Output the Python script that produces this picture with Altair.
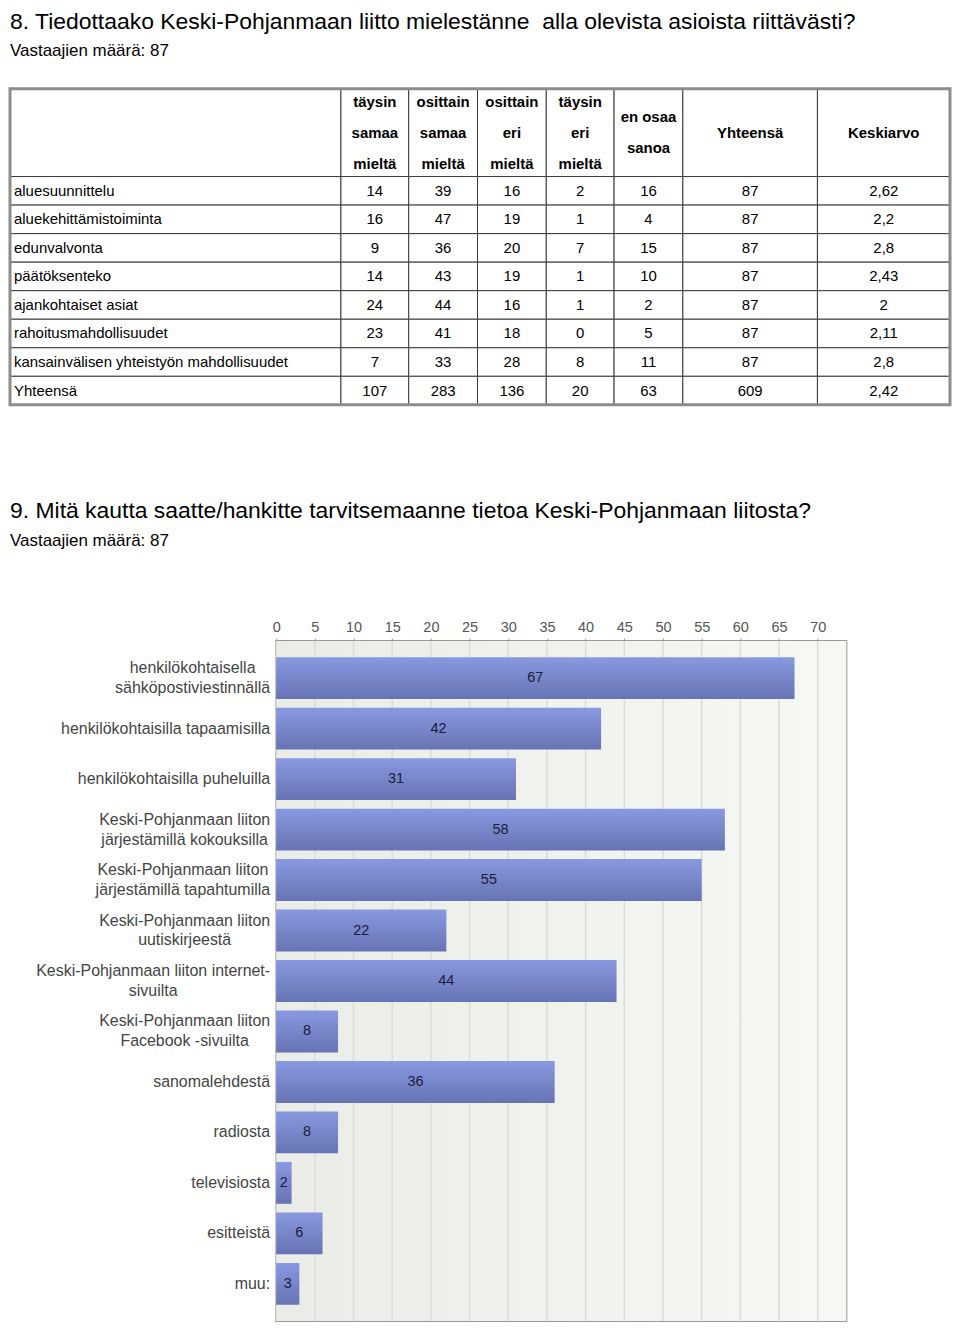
import altair as alt
import pandas as pd

FONT = "Liberation Sans, Arial, Helvetica, sans-serif"

# ---------------- data: question 8 table ----------------
q8_title = "8. Tiedottaako Keski-Pohjanmaan liitto mielestänne\u00a0 alla olevista asioista riittävästi?"
q8_sub = "Vastaajien määrä: 87"
row_names = ["aluesuunnittelu", "aluekehittämistoiminta", "edunvalvonta", "päätöksenteko",
             "ajankohtaiset asiat", "rahoitusmahdollisuudet",
             "kansainvälisen yhteistyön mahdollisuudet", "Yhteensä"]
col_headers = [["täysin", "samaa", "mieltä"], ["osittain", "samaa", "mieltä"],
               ["osittain", "eri", "mieltä"], ["täysin", "eri", "mieltä"],
               ["en osaa", "sanoa"], ["Yhteensä"], ["Keskiarvo"]]
taysin_samaa = [14, 16, 9, 14, 24, 23, 7, 107]
osittain_samaa = [39, 47, 36, 43, 44, 41, 33, 283]
osittain_eri = [16, 19, 20, 19, 16, 18, 28, 136]
taysin_eri = [2, 1, 7, 1, 1, 0, 8, 20]
en_osaa = [16, 4, 15, 10, 2, 5, 11, 63]
yhteensa = [87, 87, 87, 87, 87, 87, 87, 609]
keskiarvo = ["2,62", "2,2", "2,8", "2,43", "2", "2,11", "2,8", "2,42"]

# ---------------- data: question 9 bars ----------------
q9_title = "9. Mitä kautta saatte/hankitte tarvitsemaanne tietoa Keski-Pohjanmaan liitosta?"
q9_sub = "Vastaajien määrä: 87"
channels = ["henkilökohtaisella\nsähköpostiviestinnällä", "henkilökohtaisilla tapaamisilla",
            "henkilökohtaisilla puheluilla", "Keski-Pohjanmaan liiton\njärjestämillä kokouksilla",
            "Keski-Pohjanmaan liiton\njärjestämillä tapahtumilla", "Keski-Pohjanmaan liiton\nuutiskirjeestä",
            "Keski-Pohjanmaan liiton internet-\nsivuilta", "Keski-Pohjanmaan liiton\nFacebook -sivuilta",
            "sanomalehdestä", "radiosta", "televisiosta", "esitteistä", "muu:"]
counts = [67, 42, 31, 58, 55, 22, 44, 8, 36, 8, 2, 6, 3]
tick_values = list(range(0, 75, 5))

# ---------------- layout constants ----------------
ORIGIN = 275                      # page x of the bar chart zero line
edges = [8, 340, 408, 477, 546, 614, 683, 818, 951]   # table column edges (page x)
HEADER_H = 88
ROW_H = 28.625
HEAD_LH = 31
TABLE_H = HEADER_H + ROW_H * len(row_names)
TABLE_W = edges[-1] - ORIGIN
LABEL_FS = 16
LABEL_LH = 20

# approximate Arial / Liberation Sans advance widths (per 1000 em) for label block centering
_W = {" ": 278, "-": 333, ":": 278, "a": 556, "b": 556, "c": 500, "d": 556, "e": 556, "f": 278,
      "g": 556, "h": 556, "i": 222, "j": 222, "k": 500, "l": 222, "m": 833, "n": 556, "o": 556,
      "p": 556, "q": 556, "r": 333, "s": 500, "t": 278, "u": 556, "v": 500, "w": 722, "x": 500,
      "y": 500, "z": 500, "ä": 556, "ö": 556, "K": 667, "P": 667, "F": 611}


def text_w(s, fs):
    return sum(_W.get(ch, 556) for ch in s) * fs / 1000.0


value_cols = [taysin_samaa, osittain_samaa, osittain_eri, taysin_eri, en_osaa, yhteensa, keskiarvo]

cells, labels_left, labels_center, heads = [], [], [], []
ncol = len(edges) - 1
for c in range(ncol):
    cells.append(dict(x=edges[c], x2=edges[c + 1], y=0, y2=HEADER_H))
    if c > 0:
        lines = col_headers[c - 1]
        heads.append(dict(x=(edges[c] + edges[c + 1]) / 2,
                          y=HEADER_H / 2 - (len(lines) - 1) * HEAD_LH / 2, t=lines))
for r, name in enumerate(row_names):
    y0 = HEADER_H + r * ROW_H
    for c in range(ncol):
        cells.append(dict(x=edges[c], x2=edges[c + 1], y=y0, y2=y0 + ROW_H))
    labels_left.append(dict(x=edges[0] + 4, y=y0 + ROW_H / 2, t=name))
    for c in range(1, ncol):
        labels_center.append(dict(x=(edges[c] + edges[c + 1]) / 2, y=y0 + ROW_H / 2,
                                  t=str(value_cols[c - 1][r])))

xs = alt.Scale(domain=[edges[0], edges[-1]], range=[edges[0] - ORIGIN, edges[-1] - ORIGIN])
ys = alt.Scale(domain=[0, TABLE_H], range=[0, TABLE_H])


def tx(field="x"):
    return alt.X(f"{field}:Q", scale=xs, axis=None)


def ty(field="y"):
    return alt.Y(f"{field}:Q", scale=ys, axis=None)


cell_layer = alt.Chart(pd.DataFrame(cells)).mark_rect(
    fill="white", stroke="#3a3a3a", strokeWidth=1
).encode(x=tx(), x2="x2:Q", y=ty(), y2="y2:Q")

outer = alt.Chart(pd.DataFrame([dict(x=edges[0], x2=edges[-1], y=0, y2=TABLE_H)])).mark_rect(
    fill="transparent", stroke="#8c8c8c", strokeWidth=3
).encode(x=tx(), x2="x2:Q", y=ty(), y2="y2:Q")

txt_left = alt.Chart(pd.DataFrame(labels_left)).mark_text(
    align="left", baseline="middle", font=FONT, fontSize=15, color="black"
).encode(x=tx(), y=ty(), text="t:N")

txt_center = alt.Chart(pd.DataFrame(labels_center)).mark_text(
    align="center", baseline="middle", font=FONT, fontSize=15, color="black"
).encode(x=tx(), y=ty(), text="t:N")

txt_head = alt.Chart(pd.DataFrame(heads)).mark_text(
    align="center", baseline="middle", font=FONT, fontSize=15, fontWeight="bold",
    color="black", lineHeight=HEAD_LH
).encode(x=tx(), y=ty(), text="t")

table = alt.layer(cell_layer, outer, txt_left, txt_center, txt_head).properties(
    width=TABLE_W, height=TABLE_H,
    title=alt.TitleParams(text=q8_title, subtitle=q8_sub, anchor="start", frame="group",
                          dx=edges[0] - ORIGIN, fontSize=23, fontWeight="normal", font=FONT,
                          color="black", subtitleFont=FONT, subtitleFontSize=17,
                          subtitleColor="black", subtitlePadding=10, offset=28),
    view=alt.ViewBackground(stroke="transparent", fill="transparent")
)

# ---------------- bar chart ----------------
PLOT_W = 572
PLOT_H = 682
bdf = pd.DataFrame({"cat": channels, "value": counts})
bdf["lines"] = [c.split("\n") for c in channels]
bdf["nlines"] = [len(c.split("\n")) for c in channels]
bdf["lx"] = [-6 - max(text_w(s, LABEL_FS) for s in c.split("\n")) / 2 for c in channels]
grid_df = pd.DataFrame({"v": tick_values})

xscale = alt.Scale(domain=[0, 73.7], nice=False, zero=True)
yscale = alt.Scale(paddingInner=0.17, paddingOuter=0.32)
yenc = alt.Y("cat:N", sort=channels, scale=yscale,
             axis=alt.Axis(title=None, labels=False, ticks=False,
                           domainColor="#9a9a9a", domainWidth=2))

bg = alt.Chart(pd.DataFrame({"a": [0]})).mark_rect(
    color=alt.Gradient(gradient="linear", x1=0, y1=0, x2=1, y2=0,
                       stops=[alt.GradientStop(color="#eaece7", offset=0),
                              alt.GradientStop(color="#f6f8f4", offset=1)])
).encode(x=alt.value(0), x2=alt.value(PLOT_W), y=alt.value(0), y2=alt.value(PLOT_H))

grid = alt.Chart(grid_df).mark_rule(color="#dadcd7", strokeWidth=1.5).encode(
    x=alt.X("v:Q", scale=xscale,
            axis=alt.Axis(orient="top", values=tick_values, title=None, grid=False,
                          labelFont=FONT, labelFontSize=14.5, labelColor="#555",
                          labelFlush=False, tickColor="#999", tickSize=3, labelPadding=4,
                          domainColor="#9a9a9a", domainWidth=2))
)

bars = alt.Chart(bdf).mark_bar(
    color=alt.Gradient(gradient="linear", x1=0, y1=0, x2=0, y2=1,
                       stops=[alt.GradientStop(color="#8999e1", offset=0),
                              alt.GradientStop(color="#6773b3", offset=1)])
).encode(x=alt.X("value:Q", scale=xscale), y=yenc)

values_txt = alt.Chart(bdf).transform_calculate(mid="datum.value / 2").mark_text(
    font=FONT, fontSize=14.5, color="#1c1c3c", align="center", baseline="middle"
).encode(x=alt.X("mid:Q", scale=xscale), y=alt.Y("cat:N", sort=channels), text="value:Q")

cat_one = alt.Chart(bdf).transform_filter("datum.nlines == 1").mark_text(
    font=FONT, fontSize=LABEL_FS, color="#444", align="center", baseline="middle"
).encode(x=alt.X("lx:Q", scale=None), y=alt.Y("cat:N", sort=channels), text="lines")

cat_two = alt.Chart(bdf).transform_filter("datum.nlines == 2").mark_text(
    font=FONT, fontSize=LABEL_FS, color="#444", align="center", baseline="middle",
    lineHeight=LABEL_LH, dy=-LABEL_LH / 2
).encode(x=alt.X("lx:Q", scale=None), y=alt.Y("cat:N", sort=channels), text="lines")

barchart = alt.layer(bg, grid, bars, values_txt, cat_one, cat_two).properties(
    width=PLOT_W, height=PLOT_H,
    title=alt.TitleParams(text=q9_title, subtitle=q9_sub, anchor="start", frame="group",
                          dx=edges[0] - ORIGIN, fontSize=23, fontWeight="normal", font=FONT,
                          color="black", subtitleFont=FONT, subtitleFontSize=17,
                          subtitleColor="black", subtitlePadding=10, offset=70),
    view=alt.ViewBackground(stroke="#9a9a9a", strokeWidth=2, fill="#eff1ed")
)

chart = alt.vconcat(table, barchart, spacing=93).properties(
    padding=0, background="white"
).configure_view(stroke="transparent")

chart.save("out.html", embed_options={"renderer": "svg", "actions": False})
